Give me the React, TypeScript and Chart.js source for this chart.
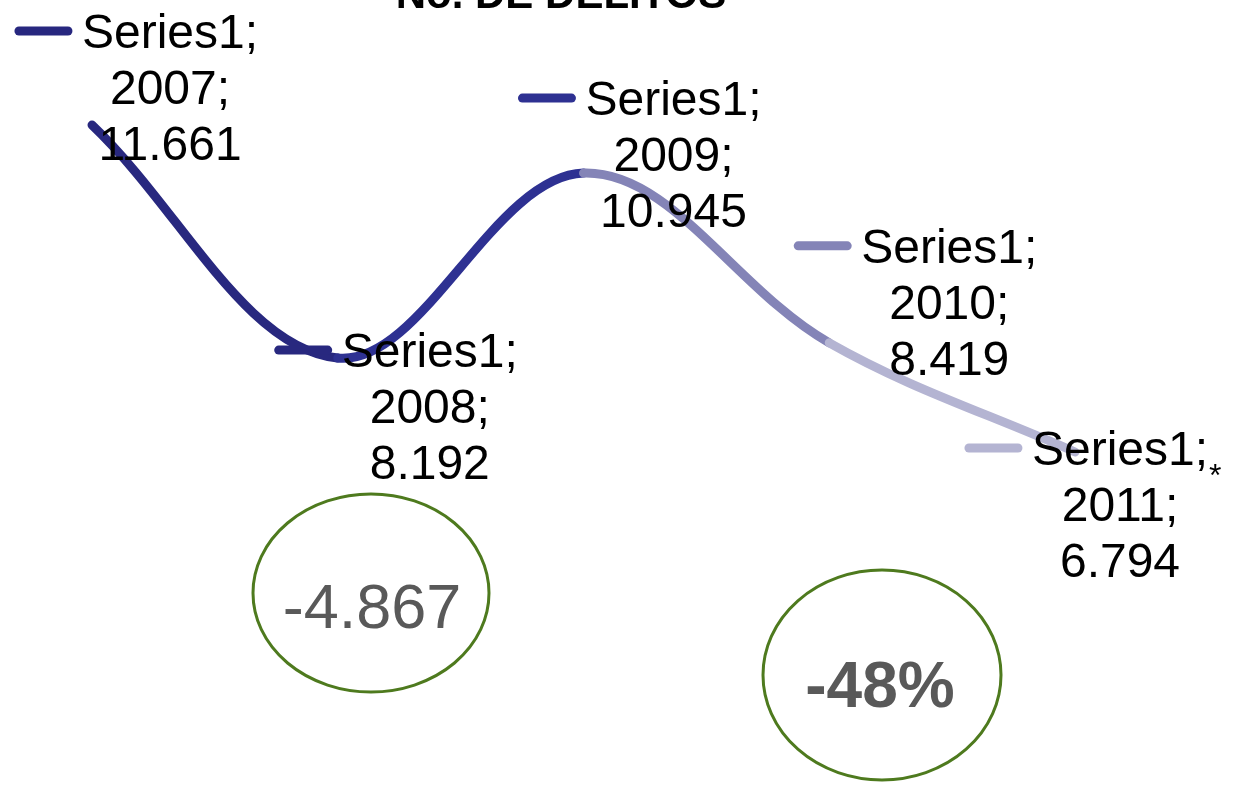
import { useEffect, useRef } from 'react';
import { Chart, registerables } from 'chart.js';

Chart.register(...registerables);

// ---- data ----
const categories = ['2007', '2008', '2009', '2010', '2011'];
const seriesName = 'Series1';
const values = [11661, 8192, 10945, 8419, 6794];
const chartTitle = 'No. DE DELITOS';
const differenceText = '-4.867';
const percentText = '-48%';

// ---- styles (kept separate from data) ----
const pointColors = ['#27277f', '#28287f', '#2e3192', '#8484b7', '#b4b4d2'];
const labelOffsets = [
  { dx: 78, dy: -77 },
  { dx: 92, dy: 9 },
  { dx: 90, dy: -58 },
  { dx: 120, dy: -80 },
  { dx: 45, dy: 13 },
];

const FONT = '"Liberation Sans", Arial, sans-serif';

function fmt(v: number): string {
  return String(v).replace(/\B(?=(\d{3})+(?!\d))/g, '.');
}

const overlayPlugin = {
  id: 'overlay',
  afterDatasetsDraw(chart: any) {
    const ctx: CanvasRenderingContext2D = chart.ctx;
    const meta = chart.getDatasetMeta(0);
    ctx.save();
    meta.data.forEach((el: any, i: number) => {
      const { x, y } = el.getProps(['x', 'y'], true);
      const off = labelOffsets[i];
      const cx = x + off.dx;
      const by = y + off.dy;
      const lines = [`${seriesName};`, `${categories[i]};`, fmt(values[i])];
      ctx.font = `48px ${FONT}`;
      ctx.textAlign = 'center';
      ctx.textBaseline = 'alphabetic';
      ctx.fillStyle = '#000000';
      lines.forEach((t, j) => ctx.fillText(t, cx, by + j * 56));
      const w = ctx.measureText(lines[0]).width;
      const left = cx - w / 2;
      ctx.strokeStyle = pointColors[i];
      ctx.lineWidth = 9;
      ctx.lineCap = 'round';
      ctx.beginPath();
      ctx.moveTo(left - 63, by - 17);
      ctx.lineTo(left - 14, by - 17);
      ctx.stroke();
      if (i === categories.length - 1) {
        ctx.font = `32px ${FONT}`;
        ctx.textAlign = 'left';
        ctx.fillText('*', left + w + 1, by + 21);
      }
    });
    ctx.restore();
  },
  afterDraw(chart: any) {
    const ctx: CanvasRenderingContext2D = chart.ctx;
    ctx.save();
    // title (partly cut off at the top)
    ctx.font = `bold 42px ${FONT}`;
    ctx.textAlign = 'center';
    ctx.textBaseline = 'alphabetic';
    ctx.fillStyle = '#000000';
    ctx.fillText(chartTitle, 561, 8);

    // ellipse annotations
    ctx.strokeStyle = '#4e7a1e';
    ctx.lineWidth = 3;
    ctx.beginPath();
    ctx.ellipse(371, 593, 118, 99, 0, 0, Math.PI * 2);
    ctx.stroke();
    ctx.beginPath();
    ctx.ellipse(882, 675, 119, 105, 0, 0, Math.PI * 2);
    ctx.stroke();

    ctx.fillStyle = '#595959';
    ctx.font = `63px ${FONT}`;
    ctx.fillText(differenceText, 372, 628);
    ctx.font = `bold 64px ${FONT}`;
    ctx.fillText(percentText, 880, 707);
    ctx.restore();
  },
};

export default function App() {
  const ref = useRef<HTMLCanvasElement | null>(null);

  useEffect(() => {
    if (!ref.current) return;
    const chart = new Chart(ref.current, {
      type: 'line',
      data: {
        labels: categories,
        datasets: [
          {
            label: seriesName,
            data: values,
            borderWidth: 9,
            borderCapStyle: 'round',
            borderJoinStyle: 'round',
            borderColor: pointColors[0],
            tension: 0.36,
            pointRadius: 0,
            pointHoverRadius: 0,
            pointHitRadius: 0,
            clip: false as any,
            segment: {
              borderColor: (c: any) => pointColors[c.p1DataIndex],
            },
          },
        ],
      },
      options: {
        responsive: false,
        animation: false,
        events: [],
        layout: { autoPadding: false, padding: { left: 92, right: 162, top: 0, bottom: 0 } },
        plugins: {
          legend: { display: false },
          title: { display: false },
          tooltip: { enabled: false },
        },
        scales: {
          x: { display: false, offset: false },
          y: { display: false, min: 1838, max: 13521 },
        },
      },
      plugins: [overlayPlugin],
    });
    return () => chart.destroy();
  }, []);

  return (
    <div style={{ position: 'absolute', left: 0, top: 0, width: 1237, height: 785, background: '#ffffff' }}>
      <canvas ref={ref} width={1237} height={785} style={{ display: 'block' }} />
    </div>
  );
}
